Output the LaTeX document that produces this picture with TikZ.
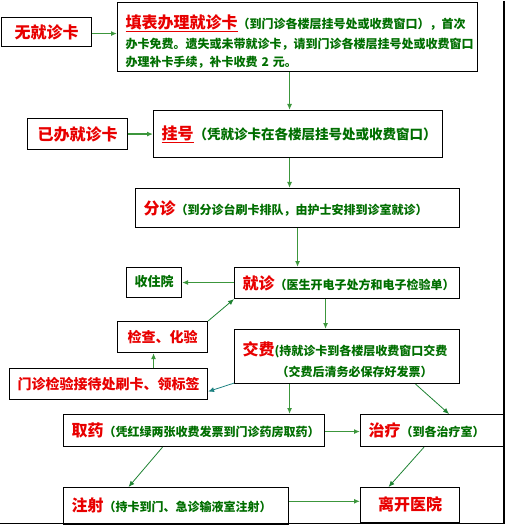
\documentclass[tikz,border=0pt]{standalone}
\usepackage{fontspec}
\newfontfamily\cjk{Noto Sans CJK SC}
\usetikzlibrary{arrows.meta,calc}
\definecolor{hred}{RGB}{232,0,0}
\definecolor{hgreen}{RGB}{0,110,0}
\definecolor{agreen}{RGB}{60,150,60}
\definecolor{dgreen}{RGB}{30,130,50}
\definecolor{ateal}{RGB}{30,130,130}
\newcommand\redt[2][16]{{\color{hred}\fontsize{#1}{19}\selectfont #2}}
\newcommand\grnt[2][12]{{\color{hgreen}\fontsize{#1}{19}\selectfont #2}}
\tikzset{
  box/.style={draw=black, line width=1.1pt, anchor=north west, inner sep=0pt, font=\cjk\bfseries},
  tall/.style={font=\cjk\bfseries\fontsize{12}{17.5}\selectfont},
  arr/.style={draw=agreen, line width=1.3pt, -{Latex[length=6pt,width=5pt]}},
  darr/.style={draw=dgreen, line width=0.8pt, -{Latex[length=6pt,width=5pt]}},
  tarr/.style={draw=ateal, line width=0.8pt, -{Latex[length=6pt,width=5pt]}}
}
\begin{document}
\begin{tikzpicture}[x=1pt,y=-1pt]
\useasboundingbox (0,0) rectangle (506,526);
\draw[black, line width=1.2pt] (504,1) -- (504,523.5) -- (0,523.5);
% boxes
\node[box, minimum width=90pt, minimum height=29pt] (nocard) at (1,17) {\raisebox{-5pt}{\redt{无就诊卡}}};
\node[box, tall, minimum width=360pt, minimum height=69pt, text width=344pt, align=left] (fill) at (117,2)
  {\rule{0pt}{22pt}\redt{\underline{填表办理就诊卡}}\grnt{（到门诊各楼层挂号处或收费窗口），首次}\\[3pt]
   \grnt{办卡免费。遗失或未带就诊卡，请到门诊各楼层挂号处或收费窗口}\\
   \grnt{办理补卡手续，补卡收费 2 元。}};
\node[box, minimum width=100pt, minimum height=31pt] (already) at (27,118) {\raisebox{-5pt}{\redt{已办就诊卡}}};
\node[box, minimum width=289pt, minimum height=47pt, text width=273pt, align=left] (guahao) at (153,110)
  {\raisebox{1pt}{\redt{\underline{挂号}}\grnt[13.5]{（凭就诊卡在各楼层挂号处或收费窗口）}}};
\node[box, minimum width=324pt, minimum height=39pt, text width=308pt, align=left] (fenzhen) at (135,188)
  {\redt{分诊}\grnt{（到分诊台刷卡排队，由护士安排到诊室就诊）}};
\node[box, minimum width=225pt, minimum height=31pt, text width=209pt, align=left] (jiuzhen) at (234,267)
  {\raisebox{-4pt}{\redt{就诊}\grnt{（医生开电子处方和电子检验单）}}};
\node[box, minimum width=55pt, minimum height=30pt] (zhuyuan) at (126,267) {\raisebox{3pt}{\grnt[13]{收住院}}};
\node[box, minimum width=90pt, minimum height=31pt] (jiancha) at (117,321) {\raisebox{-3pt}{\redt[14]{检查、化验}}};
\node[box, tall, minimum width=225pt, minimum height=54pt, text width=209pt, align=left] (jiaofei) at (234,329)
  {\rule{0pt}{20pt}\redt{交费}\grnt{(持就诊卡到各楼层收费窗口交费}\\[4pt]
   \hspace*{34pt}\grnt{（交费后清务必保存好发票）}};
\node[box, minimum width=198pt, minimum height=31pt] (menzhen) at (9,368) {\raisebox{-2pt}{\redt[14]{门诊检验接待处刷卡、领标签}}};
\node[box, minimum width=261pt, minimum height=32pt, text width=245pt, align=left] (quyao) at (63,414)
  {\raisebox{-3pt}{\redt{取药}\grnt{（凭红绿两张收费发票到门诊药房取药）}}};
\node[box, minimum width=144pt, minimum height=32pt, text width=128pt, align=left] (zhiliao) at (360,414)
  {\raisebox{-3pt}{\redt{治疗}\grnt{（到各治疗室）}}};
\node[box, minimum width=225pt, minimum height=36.5pt, text width=209pt, align=left] (zhushe) at (63,487)
  {\raisebox{3pt}{\redt{注射}\grnt{（持卡到门、急诊输液室注射）}}};
\node[box, minimum width=99pt, minimum height=35pt] (likai) at (360,487) {\raisebox{2pt}{\redt{离开医院}}};
% connectors
\draw[arr] ([yshift=-1.5pt]nocard.east) -- ([yshift=-1.5pt]nocard.east -| fill.west);
\draw[arr] (already.east) -- (already.east -| guahao.west);
\draw[arr] ([xshift=-8pt]fill.south) -- ([xshift=-8pt]fill.south |- guahao.north);
\draw[arr] ([xshift=-8.5pt]guahao.south) -- ([xshift=-8.5pt]guahao.south |- fenzhen.north);
\draw[arr] (fenzhen.south) -- (fenzhen.south |- jiuzhen.north);
\draw[arr] ([yshift=0.5pt]jiuzhen.west) -- ([yshift=0.5pt]jiuzhen.west -| zhuyuan.east);
\draw[darr] (jiancha.north east) -- (jiuzhen.south west);
\draw[arr] ([xshift=-21.5pt]jiuzhen.south) -- ([xshift=-21.5pt]jiuzhen.south |- jiaofei.north);
\draw[tarr] ([yshift=1pt]jiaofei.south west) -- ([yshift=-7.5pt]menzhen.east);
\draw[arr] ([xshift=-9pt]jiancha.south |- menzhen.north) -- ([xshift=-9pt]jiancha.south);
\draw[arr] ([xshift=-57.5pt]jiaofei.south) -- ([xshift=-57.5pt]jiaofei.south |- quyao.north);
\draw[darr] ([xshift=68.5pt]jiaofei.south) -- ([xshift=16.5pt]zhiliao.north);
\draw[arr] ([yshift=-1pt]quyao.east) -- ([yshift=-1pt]quyao.east -| zhiliao.west);
\draw[darr] ([xshift=-31.5pt]quyao.south) -- ([xshift=-47.5pt]zhushe.north);
\draw[darr] ([xshift=-8.5pt]zhiliao.south) -- ([xshift=-21.5pt]likai.north);
\draw[arr] ([yshift=4.5pt]zhushe.east) -- ([yshift=4.5pt]zhushe.east -| likai.west);
\end{tikzpicture}
\end{document}
